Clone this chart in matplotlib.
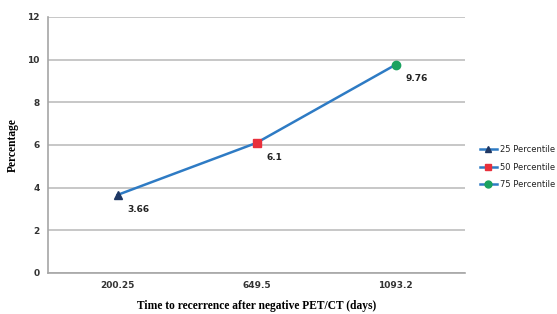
import matplotlib.pyplot as plt
from matplotlib.lines import Line2D

days = ["200.25", "649.5", "1093.2"]
percent = [3.66, 6.1, 9.76]
labels = ["25 Percentile", "50 Percentile", "75 Percentile"]
markers = ["^", "s", "o"]
marker_colors = ["#1f3864", "#e8303c", "#1aa260"]
line_color = "#2e7bc4"

fig = plt.figure(figsize=(5.57, 3.14), dpi=100)
ax = fig.add_axes([0.0862, 0.1306, 0.7487, 0.8153])

x = list(range(len(days)))
ax.plot(x, percent, color=line_color, lw=1.8, zorder=3)
for xi, yi, m, c in zip(x, percent, markers, marker_colors):
    ax.plot(xi, yi, marker=m, color=c, markersize=6, ls="none", zorder=4)

# value labels, down-right of each point
for xi, yi in zip(x, percent):
    ax.annotate(f"{yi:g}", (xi, yi), xytext=(7, -12), textcoords="offset points",
                fontsize=6.5, fontweight="bold", color="#222222")

ax.set_xlim(-0.5, 2.5)
ax.set_ylim(0, 12)
ax.set_xticks(x)
ax.set_xticklabels(days)
ax.set_yticks(range(0, 13, 2))
ax.tick_params(axis="both", length=0, labelsize=6.5, colors="#333333", pad=6)
for lbl in ax.get_xticklabels() + ax.get_yticklabels():
    lbl.set_fontweight("bold")
ax.grid(axis="y", color="#bdbdbd", lw=1.2)
ax.set_axisbelow(True)
for side in ["top", "right"]:
    ax.spines[side].set_visible(False)
for side in ["left", "bottom"]:
    ax.spines[side].set_color("#a6a6a6")
    ax.spines[side].set_linewidth(1.2)

ax.set_xlabel("Time to recerrence after negative PET/CT (days)", fontsize=8.3,
              fontweight="bold", family="Liberation Serif", labelpad=7)
ax.set_ylabel("Percentage", fontsize=8.3, fontweight="bold",
              family="Liberation Serif", labelpad=6)

handles = [Line2D([0], [0], color=line_color, lw=1.8, marker=m,
                  markerfacecolor=c, markeredgecolor=c, markersize=5)
           for m, c in zip(markers, marker_colors)]
leg = fig.legend(handles, labels, loc="center left", bbox_to_anchor=(0.861, 0.468),
                 frameon=False, fontsize=6.0, handlelength=2.1, labelspacing=1.05,
                 handletextpad=0.3, borderaxespad=0, borderpad=0)
for t in leg.get_texts():
    t.set_color("#222222")

fig.savefig("out.png", dpi=100)
